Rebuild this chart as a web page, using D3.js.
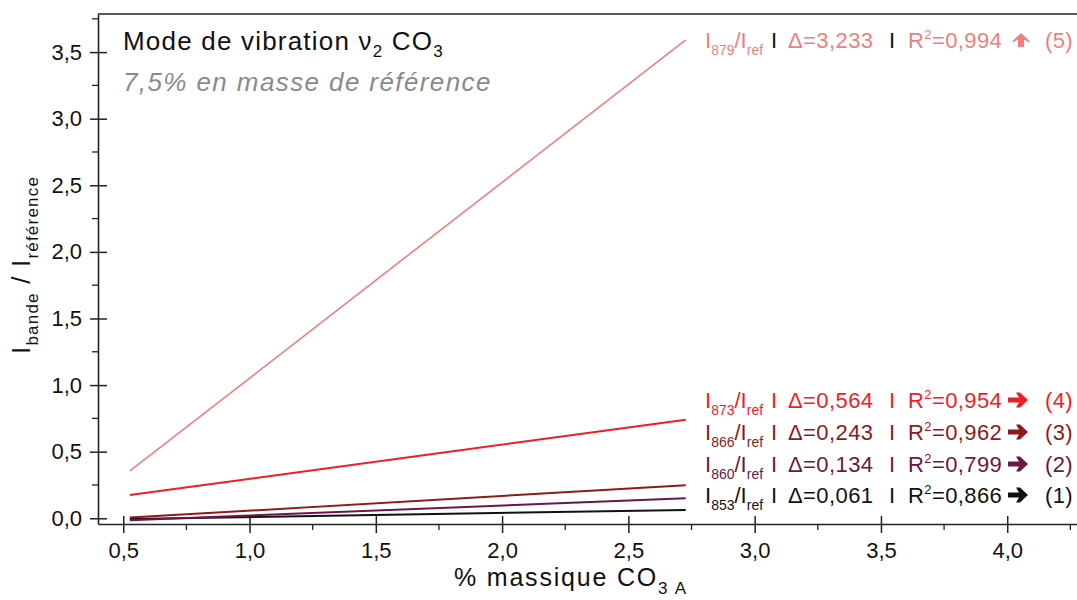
<!DOCTYPE html>
<html><head><meta charset="utf-8">
<script src="https://cdn.jsdelivr.net/npm/d3@7"></script>
<style>body{margin:0;background:#fff}svg{display:block}text{font-family:"Liberation Sans",Arial,sans-serif}</style>
</head><body><svg id="c" width="1077" height="600"></svg>
<script>
// Data
const seriesNames = ["853", "860", "866", "873", "879"];
const xStart = [0.526, 0.526, 0.526, 0.526, 0.526];
const xEnd = [2.727, 2.727, 2.727, 2.727, 2.727];
const yStart = [-0.005, -0.015, 0.005, 0.175, 0.355];
const yEnd = [0.062, 0.150, 0.248, 0.739, 3.591];
const deltas = ["0,061", "0,134", "0,243", "0,564", "3,233"];
const r2 = ["0,866", "0,799", "0,962", "0,954", "0,994"];
const idx = ["(1)", "(2)", "(3)", "(4)", "(5)"];
const arrowDir = ["right", "right", "right", "right", "up"];
const colors = ["#111111", "#6b1646", "#8e1a1a", "#ef1d24", "#f27d7d"];
const xTicks = [0.5, 1.0, 1.5, 2.0, 2.5, 3.0, 3.5, 4.0];
const yTicks = [0.0, 0.5, 1.0, 1.5, 2.0, 2.5, 3.0, 3.5];

const svg = d3.select("#c");
const x = d3.scaleLinear().domain([0.4, 4.3]).range([98, 1083]);
const y = d3.scaleLinear().domain([-0.043, 3.786]).range([524, 14]);
const fmt = v => d3.format(".1f")(v).replace(".", ",");
const axCol = "#222";

// frame
svg.append("line").attr("x1", 98).attr("x2", 1083).attr("y1", 14).attr("y2", 14).attr("stroke", axCol).attr("stroke-width", 1.6);

// minor ticks
const xMinor = d3.range(0.5, 4.3, 0.25).filter(v => Math.abs(v * 2 - Math.round(v * 2)) > 1e-6);
const yMinor = d3.range(0.25, 3.8, 0.5);
svg.append("g").selectAll("line").data(xMinor).join("line")
  .attr("x1", d => x(d)).attr("x2", d => x(d)).attr("y1", 524).attr("y2", 530).attr("stroke", axCol).attr("stroke-width", 1.3);
svg.append("g").selectAll("line").data(yMinor).join("line")
  .attr("y1", d => y(d)).attr("y2", d => y(d)).attr("x1", 98).attr("x2", 92).attr("stroke", axCol).attr("stroke-width", 1.3);

// axes
const xAxis = d3.axisBottom(x).tickValues(xTicks).tickFormat(fmt).tickSizeInner(9).tickSizeOuter(0).tickPadding(9);
const gx = svg.append("g").attr("transform", "translate(0,524)").call(xAxis);
gx.select(".domain").attr("stroke", axCol).attr("stroke-width", 1.6);
gx.selectAll(".tick line").attr("stroke", axCol).attr("stroke-width", 1.5).attr("y1", -8);
gx.selectAll("text").attr("font-size", 22).attr("fill", "#111").attr("font-family", "Liberation Sans, Arial, sans-serif");

const yAxis = d3.axisLeft(y).tickValues(yTicks).tickFormat(fmt).tickSizeInner(8).tickSizeOuter(0).tickPadding(8);
const gy = svg.append("g").attr("transform", "translate(98,0)").call(yAxis);
gy.select(".domain").attr("stroke", axCol).attr("stroke-width", 1.6);
gy.selectAll(".tick line").attr("stroke", axCol).attr("stroke-width", 1.5).attr("x2", 9).attr("x1", -8);
gy.selectAll("text").attr("font-size", 22).attr("fill", "#111").attr("font-family", "Liberation Sans, Arial, sans-serif");

// lines
seriesNames.forEach((n, i) => {
  const pts = [[xStart[i], yStart[i]], [xEnd[i], yEnd[i]]];
  svg.append("path").datum(pts)
    .attr("d", d3.line().x(d => x(d[0])).y(d => y(d[1])))
    .attr("fill", "none").attr("stroke", colors[i]).attr("stroke-width", i === 4 ? 1.6 : 2);
});

// titles
svg.append("text").attr("x", 123).attr("y", 50).attr("font-size", 26).attr("letter-spacing", 1.2).attr("fill", "#111")
  .call(t => {
    t.append("tspan").text("Mode de vibration ν");
    t.append("tspan").attr("font-size", 17).attr("dy", 7).text("2");
    t.append("tspan").attr("dy", -7).text(" CO");
    t.append("tspan").attr("font-size", 17).attr("dy", 7).text("3");
  });
svg.append("text").attr("x", 123).attr("y", 91).attr("font-size", 26).attr("letter-spacing", 1.4).attr("font-style", "italic").attr("fill", "#8a8a8a")
  .text("7,5% en masse de référence");

// axis titles
svg.append("text").attr("x", 454).attr("y", 586).attr("font-size", 25).attr("letter-spacing", 1.8).attr("fill", "#111")
  .call(t => {
    t.append("tspan").text("% massique CO");
    t.append("tspan").attr("font-size", 17).attr("dy", 8).text("3 A");
  });
svg.append("text").attr("transform", "translate(30,354) rotate(-90)").attr("font-size", 26).attr("letter-spacing", 1.2).attr("fill", "#111")
  .call(t => {
    t.append("tspan").text("I");
    t.append("tspan").attr("font-size", 17).attr("dy", 8).text("bande");
    t.append("tspan").attr("dy", -8).text(" / I");
    t.append("tspan").attr("font-size", 17).attr("dy", 8).text("référence");
  });

// right labels
const labelY = [503, 472, 440, 408, 48];
seriesNames.forEach((n, i) => {
  const c = i === 4 ? "#f07e7e" : colors[i];
  const sepC = i === 4 ? "#111" : c;
  const by = labelY[i];
  const g = svg.append("g").attr("fill", c).attr("font-size", 22).attr("letter-spacing", 0.4);
  const a = g.append("text").attr("x", 705).attr("y", by).attr("letter-spacing", 0);
  a.append("tspan").text("I");
  a.append("tspan").attr("font-size", 14).attr("dy", 7).text(n);
  a.append("tspan").attr("dy", -7).text("/I");
  a.append("tspan").attr("font-size", 14).attr("dy", 7).text("ref");
  g.append("text").attr("x", 771).attr("y", by).attr("fill", sepC).text("I");
  g.append("text").attr("x", 788).attr("y", by).text("Δ=" + deltas[i]);
  g.append("text").attr("x", 889).attr("y", by).attr("fill", sepC).text("I");
  const r = g.append("text").attr("x", 908).attr("y", by);
  r.append("tspan").text("R");
  r.append("tspan").attr("font-size", 13).attr("dy", -9).text("2");
  r.append("tspan").attr("dy", 9).text("=" + r2[i]);
  g.append("text").attr("x", 1073).attr("y", by).attr("text-anchor", "end").text(idx[i]);
  // arrow glyph mark
  if (arrowDir[i] === "right") {
    const x0 = 1008, cy = by - 8;
    g.append("path").attr("fill", c)
      .attr("d", `M${x0},${cy - 2.6}L${x0 + 11},${cy - 2.6}L${x0 + 8},${cy - 7.5}L${x0 + 12},${cy - 7.5}L${x0 + 20},${cy}L${x0 + 12},${cy + 7.5}L${x0 + 8},${cy + 7.5}L${x0 + 11},${cy + 2.6}L${x0},${cy + 2.6}Z`);
  } else {
    const cx = 1021, top = by - 15, bot = by - 1;
    g.append("path").attr("fill", c)
      .attr("d", `M${cx},${top}L${cx + 8.5},${top + 8}L${cx + 8.5},${top + 9.5}L${cx + 3},${top + 6.5}L${cx + 3},${bot}L${cx - 3},${bot}L${cx - 3},${top + 6.5}L${cx - 8.5},${top + 9.5}L${cx - 8.5},${top + 8}Z`);
  }
});
</script></body></html>
